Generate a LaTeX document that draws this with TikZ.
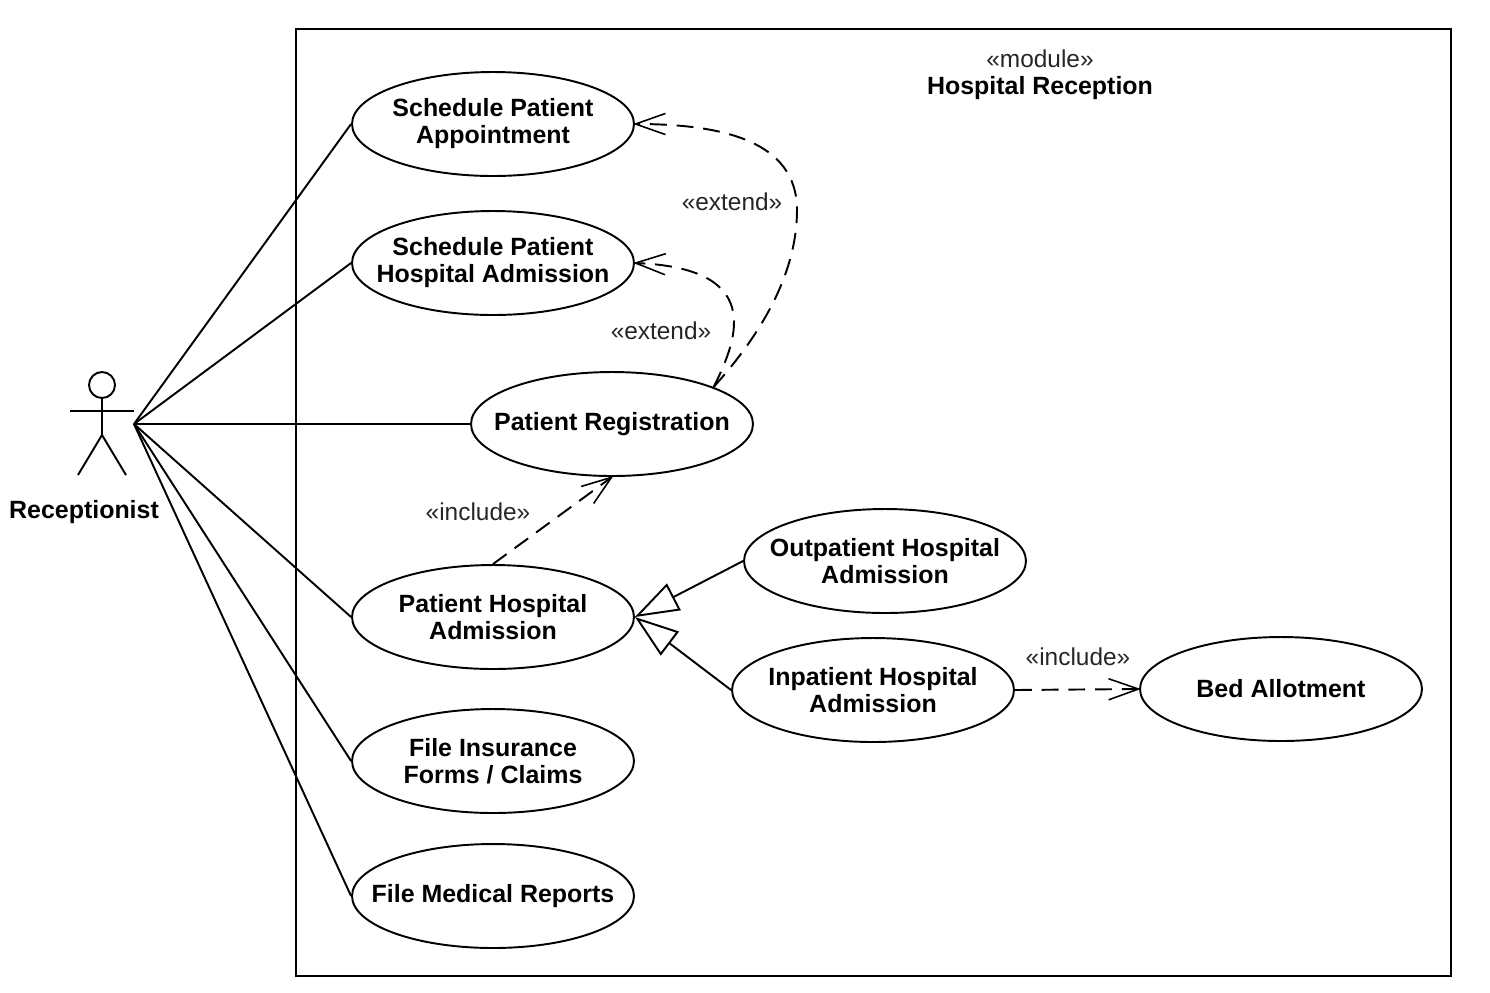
\documentclass[tikz,border=0pt]{standalone}
\usepackage{fontspec}
\setmainfont{Liberation Sans}
\usetikzlibrary{arrows.meta,shapes.geometric}

\tikzset{
  usecase/.style={draw,ellipse,line width=1.1pt,minimum width=5.64cm,minimum height=2.08cm,inner xsep=-1cm,inner ysep=-0.2cm,align=center,
    font=\fontsize{14.2}{15.4}\selectfont\bfseries},
  title/.style={font=\fontsize{14.2}{15.4}\selectfont\bfseries},
  stereo/.style={font=\fontsize{13.9}{15.4}\selectfont,text=black!85},
  assoc/.style={line width=1.1pt},
  dep/.style={line width=1.1pt,dash pattern=on 9.6pt off 5.6pt,shorten >=-1pt,-{Straight Barb[length=17pt,width=12pt,line width=0.9pt]}},
  gen/.style={line width=1.1pt,-{Triangle[open,length=25pt,width=17pt,line width=1.1pt,fill=white]}}
}

\begin{document}
\begin{tikzpicture}[x=0.02cm,y=-0.02cm]
  \useasboundingbox (0,0) rectangle (1490,992);
  \draw[line width=1.1pt] (296,29) rectangle (1451,976);

  \node[stereo] (modulelabel) at (1040,59) {«module»};
  \node[title] (modulename) at (1040,88) {Hospital Reception};

  \node[usecase] (appt) at (493,124) {Schedule Patient\\Appointment};
  \node[usecase] (sched) at (493,263) {Schedule Patient\\Hospital Admission};
  \node[usecase] (reg) at (612,424) {Patient Registration};
  \node[usecase] (adm) at (493,617) {Patient Hospital\\Admission};
  \node[usecase] (forms) at (493,761) {File Insurance\\Forms / Claims};
  \node[usecase] (reports) at (493,896) {File Medical Reports};
  \node[usecase] (outp) at (885,561) {Outpatient Hospital\\Admission};
  \node[usecase] (inp) at (873,690) {Inpatient Hospital\\Admission};
  \node[usecase] (bed) at (1281,689) {Bed Allotment};

  \draw[line width=1.1pt] (102,385) circle[radius=0.26cm];
  \draw[line width=1.1pt] (102,398) -- (102,435);
  \draw[line width=1.1pt] (70,411) -- (134,411);
  \draw[line width=1.1pt] (78,475) -- (102,435) -- (126,475);
  \node[title] (actorname) at (84,512) {Receptionist};

  \coordinate (actor) at (134,424);
  \foreach \n in {appt,sched,reg,adm,forms,reports} {
    \draw[assoc] (actor) -- (\n.west);
  }

  \draw[dep] (reg.20) .. controls (765,330) and (797,270) .. (797,210)
    .. controls (797,140) and (720,124) .. (appt.east);
  \draw[dep] (reg.20) .. controls (740,335) and (762,268) .. (sched.east);
  \draw[dep] (adm.north) -- (reg.south);
  \draw[dep] (inp.east) -- (bed.west);

  \draw[gen] (outp.west) -- (adm.east);
  \draw[gen] (inp.west) -- (adm.east);

  \node[stereo] (extendA) at (732,202) {«extend»};
  \node[stereo] (extendB) at (661,331) {«extend»};
  \node[stereo] (includeA) at (478,512) {«include»};
  \node[stereo] (includeB) at (1078,657) {«include»};
\end{tikzpicture}
\end{document}
